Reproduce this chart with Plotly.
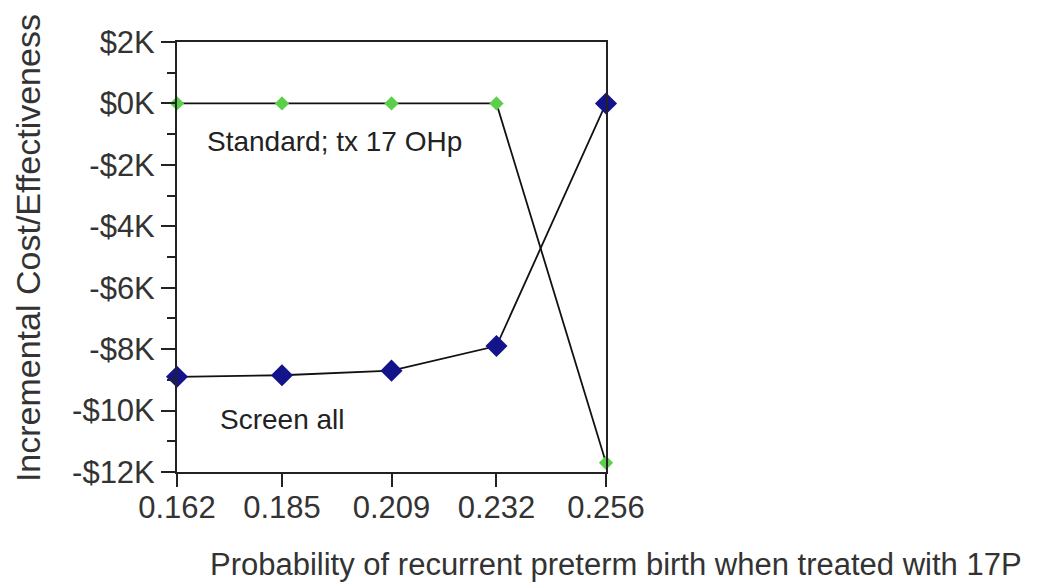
import plotly.graph_objects as go

# x categories (probability of recurrent preterm birth when treated with 17P)
prob = [0.162, 0.185, 0.209, 0.232, 0.256]

# incremental cost/effectiveness, in $K
standard = [0, 0, 0, 0, -11.7]
screen_all = [-8.9, -8.85, -8.7, -7.9, 0]

ytick_vals = [2, 0, -2, -4, -6, -8, -10, -12]
ytick_text = ["$2K", "$0K", "-$2K", "-$4K", "-$6K", "-$8K", "-$10K", "-$12K"]
yminor_vals = [1, -1, -3, -5, -7, -9, -11]

fig = go.Figure()

fig.add_trace(go.Scatter(
    x=prob, y=standard, mode="lines+markers", name="Standard; tx 17 OHp",
    line=dict(color="#111", width=1.8),
    marker=dict(symbol="diamond", size=11, color="#5ccf4a"),
    cliponaxis=False))

fig.add_trace(go.Scatter(
    x=prob, y=screen_all, mode="lines+markers", name="Screen all",
    line=dict(color="#111", width=1.8),
    marker=dict(symbol="diamond", size=17, color="#14148a"),
    cliponaxis=False))

fig.add_annotation(x=0.1681, y=-1.25, text="Standard; tx 17 OHp", showarrow=False,
                   xanchor="left", font=dict(size=28, color="#222"))
fig.add_annotation(x=0.171, y=-10.3, text="Screen all", showarrow=False,
                   xanchor="left", font=dict(size=28, color="#222"))

# axis titles, placed like the original
fig.add_annotation(xref="paper", yref="paper", x=0.072, y=-0.216,
                   text="Probability of recurrent preterm birth when treated with 17P",
                   showarrow=False, xanchor="left", yanchor="middle", font=dict(size=31, color="#333"))
fig.add_annotation(xref="paper", yref="paper", x=-0.347, y=0.521, text="Incremental Cost/Effectiveness",
                   showarrow=False, textangle=-90, xanchor="center", yanchor="middle",
                   font=dict(size=34, color="#333"))

# page body has an 8px margin, so shift everything back by that
fig.update_layout(
    width=1042, height=580,
    margin=dict(l=169, r=444, t=34, b=116, autoexpand=False),
    plot_bgcolor="white", paper_bgcolor="white",
    showlegend=False,
    font=dict(family="Liberation Sans, Arial", color="#333"),
    xaxis=dict(range=[0.162, 0.256], tickvals=prob, ticktext=[f"{p:.3f}" for p in prob],
               showgrid=False, zeroline=False, showline=True, linecolor="#222", linewidth=2,
               mirror=True, ticks="outside", ticklen=13, tickwidth=2, tickcolor="#222",
               ticklabelstandoff=-6,
               tickfont=dict(size=31, color="#333"), automargin=False),
    yaxis=dict(range=[-12, 2], tickvals=ytick_vals, ticktext=ytick_text,
               showgrid=False, zeroline=False, showline=True, linecolor="#222", linewidth=2,
               mirror=True, ticks="outside", ticklen=14, tickwidth=2, tickcolor="#222",
               tickfont=dict(size=31, color="#333"), automargin=False,
               minor=dict(tickvals=yminor_vals, ticks="outside", ticklen=8, tickwidth=2, tickcolor="#222")),
)

fig.write_html("out.html")
